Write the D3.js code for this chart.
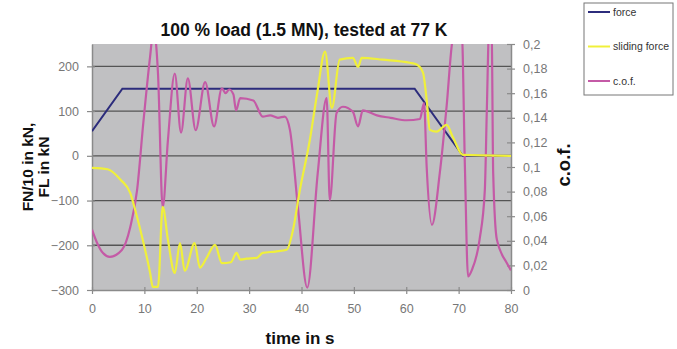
<!DOCTYPE html>
<html lang="en">
<head>
<meta charset="UTF-8">
<script src="https://d3js.org/d3.v7.min.js"></script>
<style>
  body { margin: 0; background: #fff; }
  svg text { font-family: 'Liberation Sans', Arial, sans-serif; }
</style>
</head>
<body>
<div id="chart"></div>
<script>
// force (FN/10), kN
const forceTime = [0, 5.8, 61.6, 70.8, 80];
const forceVal = [55, 150, 150, 0, 0];

// sliding force (FL), kN
const slideTime = [0, 3, 5.5, 7.3, 8.4, 9.7, 11.1, 11.6, 12.6, 13.5, 14.5, 15.8, 16.8, 17.7, 19.6, 20.6, 21.8, 23.5, 24.8, 26.5, 27.6, 28.3, 29.5, 31.5, 32.6, 35, 37.2, 38.3, 39.7, 41.6, 43, 44.5, 45.8, 47.3, 49.8, 50.8, 51.5, 55.5, 60.7, 62, 63.2, 63.9, 64.5, 65.8, 67.7, 68.9, 70.8, 80];
const slideVal = [-27, -30, -54, -83, -128, -188, -262, -293, -293, -114, -188, -262, -195, -257, -195, -250, -230, -199, -240, -238, -217, -232, -230, -228, -217, -214, -210, -170, -76, 36, 140, 233, 107, 215, 219, 199, 219, 215, 208, 204, 186, 125, 58, 54, 69, 42, 2, 0];

// coefficient of friction
const cofTime = [0, 1, 2.1, 3.4, 5.7, 7.3, 8.6, 9.8, 11.1, 11.7, 12.1, 12.6, 13.5, 14.5, 15.8, 17, 18.3, 19.8, 21.6, 23.3, 24.8, 25.5, 26.2, 27, 27.5, 28.3, 30.8, 32.6, 34, 35.5, 36.8, 37.8, 39.3, 41.1, 43.1, 44.8, 45.4, 46.7, 47.9, 49.8, 50.8, 51.7, 54.4, 57, 60.1, 62.6, 63.4, 63.9, 64.9, 66.4, 67.7, 68.9, 69.5, 70.6, 71.2, 71.8, 72.5, 74, 75, 75.4, 75.8, 76.3, 76.6, 77.3, 79.2, 80];
const cofVal = [0.049, 0.038, 0.030, 0.027, 0.0325, 0.051, 0.081, 0.136, 0.19, 0.21, 0.205, 0.176, 0.067, 0.122, 0.176, 0.128, 0.172, 0.130, 0.169, 0.133, 0.164, 0.160, 0.163, 0.159, 0.146, 0.156, 0.154, 0.141, 0.142, 0.140, 0.141, 0.130, 0.068, 0.002, 0.095, 0.156, 0.073, 0.144, 0.149, 0.145, 0.133, 0.146, 0.142, 0.140, 0.138, 0.139, 0.152, 0.1, 0.053, 0.095, 0.149, 0.205, 0.21, 0.21, 0.1, 0.011, 0.016, 0.041, 0.081, 0.149, 0.21, 0.21, 0.095, 0.041, 0.022, 0.016];

const xTicks = [0, 10, 20, 30, 40, 50, 60, 70, 80];
const leftTicks = [200, 100, 0, -100, -200, -300];
const rightTicks = [0, 0.02, 0.04, 0.06, 0.08, 0.1, 0.12, 0.14, 0.16, 0.18, 0.2];
const rightLabels = ["0", "0,02", "0,04", "0,06", "0,08", "0,1", "0,12", "0,14", "0,16", "0,18", "0,2"];

const W = 677, H = 349;
const plot = { left: 92, right: 511, top: 44, bottom: 290 };

const svg = d3.select("#chart").append("svg").attr("width", W).attr("height", H);

const x = d3.scaleLinear().domain([0, 80]).range([plot.left, plot.right]);
const yL = d3.scaleLinear().domain([-300, 250]).range([plot.bottom, plot.top]);
const yR = d3.scaleLinear().domain([0, 0.2]).range([plot.bottom, plot.top]);

// plot background
svg.append("rect")
  .attr("x", plot.left).attr("y", plot.top)
  .attr("width", plot.right - plot.left).attr("height", plot.bottom - plot.top)
  .attr("fill", "#c0c0c2");

// gridlines
svg.append("g").selectAll("line")
  .data(leftTicks.filter(d => d > -300))
  .join("line")
  .attr("x1", plot.left).attr("x2", plot.right)
  .attr("y1", d => yL(d)).attr("y2", d => yL(d))
  .attr("stroke", "#555").attr("stroke-width", 1.3);

// axes
const axisColor = "#8a8a8a";
const gx = svg.append("g").attr("transform", `translate(0,${plot.bottom})`)
  .call(d3.axisBottom(x).tickValues(xTicks).tickSize(4).tickSizeOuter(0));
const gl = svg.append("g").attr("transform", `translate(${plot.left},0)`)
  .call(d3.axisLeft(yL).tickValues(leftTicks).tickSize(5).tickSizeOuter(0).tickPadding(8));
const gr = svg.append("g").attr("transform", `translate(${plot.right},0)`)
  .call(d3.axisRight(yR).tickValues(rightTicks).tickSize(4).tickSizeOuter(0).tickPadding(8)
    .tickFormat((d, i) => rightLabels[i]));

[gx, gl, gr].forEach(g => {
  g.select(".domain").attr("stroke", axisColor).attr("stroke-width", 1.5);
  g.selectAll(".tick line").attr("stroke", axisColor).attr("stroke-width", 1.2);
  g.selectAll(".tick text").attr("fill", "#777").attr("font-size", 12.5)
    .style("font-family", "'Liberation Sans', Arial, sans-serif");
});
gx.selectAll(".tick text").attr("dy", "1.25em");
// cross ticks
gr.selectAll(".tick line").attr("x1", -4);
gx.selectAll(".tick line").attr("y1", -3);
gl.selectAll(".tick line").attr("x1", -5).attr("x2", 3);

// clip
svg.append("clipPath").attr("id", "clip")
  .append("rect")
  .attr("x", plot.left).attr("y", plot.top)
  .attr("width", plot.right - plot.left).attr("height", plot.bottom - plot.top + 1);

const lines = svg.append("g").attr("clip-path", "url(#clip)");

const lineL = d3.line().x(d => x(d[0])).y(d => yL(d[1])).curve(d3.curveMonotoneX);
const lineR = d3.line().x(d => x(d[0])).y(d => yR(d[1])).curve(d3.curveMonotoneX);

lines.append("path")
  .datum(forceTime.map((t, i) => [t, forceVal[i]]))
  .attr("d", d3.line().x(d => x(d[0])).y(d => yL(d[1])))
  .attr("fill", "none").attr("stroke", "#2c2c7c").attr("stroke-width", 2);

lines.append("path")
  .datum(cofTime.map((t, i) => [t, cofVal[i]]))
  .attr("d", lineR)
  .attr("fill", "none").attr("stroke", "#c45aa6").attr("stroke-width", 2.2);

lines.append("path")
  .datum(slideTime.map((t, i) => [t, slideVal[i]]))
  .attr("d", lineL)
  .attr("fill", "none").attr("stroke", "#f0f03a").attr("stroke-width", 2.2);

// title
svg.append("text")
  .attr("x", 304).attr("y", 36)
  .attr("text-anchor", "middle")
  .attr("font-size", 17.5).attr("font-weight", "bold").attr("fill", "#111")
  .text("100 % load (1.5 MN), tested at 77 K");

// axis titles
svg.append("text")
  .attr("x", 300).attr("y", 344)
  .attr("text-anchor", "middle")
  .attr("font-size", 17).attr("font-weight", "bold").attr("fill", "#111")
  .text("time in s");

const yt = svg.append("text")
  .attr("transform", "translate(33,167) rotate(-90)")
  .attr("text-anchor", "middle")
  .attr("font-size", 15.5).attr("font-weight", "bold").attr("fill", "#111");
yt.append("tspan").attr("x", 0).attr("y", 0).text("FN/10 in kN,");
yt.append("tspan").attr("x", 0).attr("y", 16).text("FL in kN");

svg.append("text")
  .attr("transform", "translate(570,165) rotate(-90)")
  .attr("text-anchor", "middle")
  .attr("font-size", 18.5).attr("font-weight", "bold").attr("fill", "#111")
  .text("c.o.f.");

// legend
const legendItems = ["force", "sliding force", "c.o.f."];
const legendColors = ["#2c2c7c", "#f0f03a", "#c45aa6"];
const lg = svg.append("g");
lg.append("rect")
  .attr("x", 584).attr("y", 3).attr("width", 89).attr("height", 92)
  .attr("fill", "#fff").attr("stroke", "#777").attr("stroke-width", 1);
const ly = d3.scalePoint().domain(legendItems).range([12, 81]);
legendItems.forEach((name, i) => {
  lg.append("line")
    .attr("x1", 588).attr("x2", 610)
    .attr("y1", ly(name)).attr("y2", ly(name))
    .attr("stroke", legendColors[i]).attr("stroke-width", 2);
  lg.append("text")
    .attr("x", 613).attr("y", ly(name) + 3.5)
    .attr("font-size", 10.5).attr("fill", "#333")
    .text(name);
});
</script>
</body>
</html>
